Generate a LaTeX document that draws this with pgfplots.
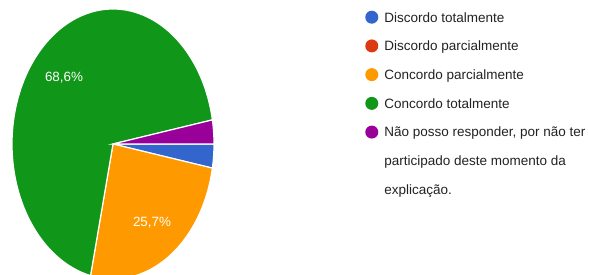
\documentclass[border=0pt]{standalone}
\usepackage{pgfplots}
\usepackage{pgfplotstable}
\usepackage{fontspec}
\setmainfont{Liberation Sans}
\pgfplotsset{compat=1.18}
\definecolor{gblue}{HTML}{3366CC}
\definecolor{gred}{HTML}{DC3912}
\definecolor{gorange}{HTML}{FF9900}
\definecolor{ggreen}{HTML}{109618}
\definecolor{gpurple}{HTML}{990099}
\definecolor{gtext}{HTML}{222222}
\pgfplotstableread{
label count
DT 1
DP 0
CP 9
CT 24
NP 1
}\piedata
\newcommand\lt[1]{\begin{tabular}[t]{@{}l@{}}#1\end{tabular}}
\begin{document}
\begin{tikzpicture}
\pgfplotstablegetelem{0}{count}\of\piedata\let\cA\pgfplotsretval
\pgfplotstablegetelem{1}{count}\of\piedata\let\cB\pgfplotsretval
\pgfplotstablegetelem{2}{count}\of\piedata\let\cC\pgfplotsretval
\pgfplotstablegetelem{3}{count}\of\piedata\let\cD\pgfplotsretval
\pgfplotstablegetelem{4}{count}\of\piedata\let\cE\pgfplotsretval
\pgfmathsetmacro\tot{\cA+\cB+\cC+\cD+\cE}
\pgfmathsetmacro\aA{0}
\pgfmathsetmacro\aB{\aA-360*\cA/\tot}
\pgfmathsetmacro\aC{\aB-360*\cB/\tot}
\pgfmathsetmacro\aD{\aC-360*\cC/\tot}
\pgfmathsetmacro\aE{\aD-360*\cD/\tot}
\pgfmathsetmacro\aF{\aE-360*\cE/\tot}
\begin{axis}[
  at={(0,0)}, anchor=south west,
  scale only axis, width=589pt, height=275pt,
  xmin=0, xmax=589, ymin=0, ymax=275,
  hide axis,
  legend style={at={(axis description cs:0.6188,0.9935)}, anchor=north west,
    draw=none, fill=none, inner sep=0pt, row sep=7pt, column sep=0pt,
    font=\fontsize{13.5}{28.6}\selectfont\color{gtext},
    cells={anchor=base west},
    nodes={inner sep=0pt}},
  legend image code/.code={\fill[draw=none] (0pt,4.8pt) circle (6.5pt);\path (12pt,0) (-6.5pt,0);},
  variable=\t,
]
\addplot[fill=gblue, draw=white, line width=1.2pt, domain=\aB:\aA, samples=10]
  ({113+101*cos(t)},{131+135*sin(t)}) -- (113,131) -- cycle;
\addlegendentry{\lt{Discordo totalmente}}
\addlegendimage{fill=gred}
\addlegendentry{\lt{Discordo parcialmente}}
\addplot[fill=gorange, draw=white, line width=1.2pt, domain=\aD:\aC, samples=50]
  ({113+101*cos(t)},{131+135*sin(t)}) -- (113,131) -- cycle;
\addlegendentry{\lt{Concordo parcialmente}}
\addplot[fill=ggreen, draw=white, line width=1.2pt, domain=\aE:\aD, samples=120]
  ({113+101*cos(t)},{131+135*sin(t)}) -- (113,131) -- cycle;
\addlegendentry{\lt{Concordo totalmente}}
\addplot[fill=gpurple, draw=white, line width=1.2pt, domain=\aF:\aE, samples=10]
  ({113+101*cos(t)},{131+135*sin(t)}) -- (113,131) -- cycle;
\addlegendentry{\lt{Não posso responder, por não ter\\participado deste momento da\\explicação.}}
\node[text=white, font=\fontsize{13.4}{16}\selectfont] at (64,197) {68,6\%};
\node[text=white, font=\fontsize{13.4}{16}\selectfont] at (152,52) {25,7\%};
\end{axis}
\pgfresetboundingbox
\useasboundingbox (0,0) rectangle (589pt,275pt);
\end{tikzpicture}
\end{document}
